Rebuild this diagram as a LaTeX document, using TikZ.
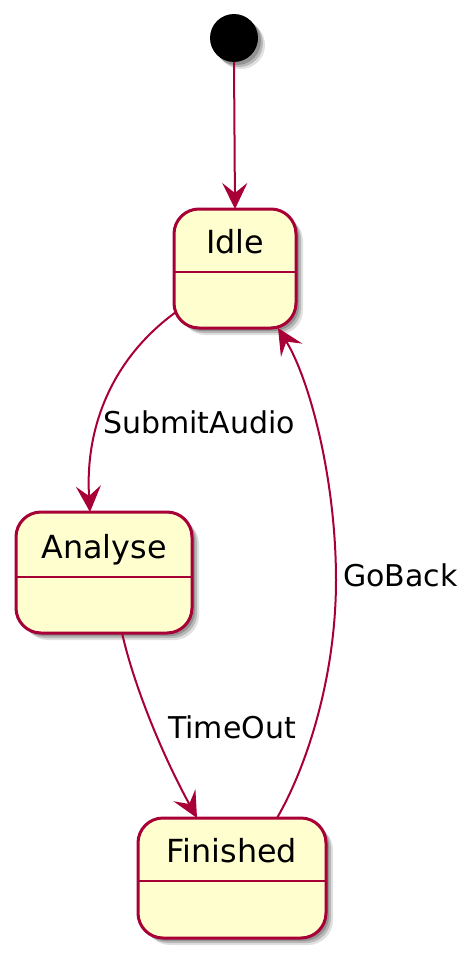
\documentclass[tikz,border=0pt]{standalone}
\usepackage{fontspec}
\setmainfont{DejaVu Sans}
\usetikzlibrary{arrows.meta,shadows,calc}
\definecolor{pborder}{HTML}{A80036}
\definecolor{pfill}{HTML}{FEFECE}
\begin{document}
\begin{tikzpicture}[x=1pt,y=-1pt,
  pshadow/.style={drop shadow={shadow xshift=7pt, shadow yshift=-7pt, fill=black, opacity=0.12},
                  drop shadow={shadow xshift=5pt, shadow yshift=-5pt, fill=black, opacity=0.18},
                  drop shadow={shadow xshift=3pt, shadow yshift=-3pt, fill=black, opacity=0.2}},
  state/.style={draw=pborder, fill=pfill, line width=3pt, rounded corners=25pt, inner sep=0pt, outer sep=0pt, pshadow},
  divider/.style={draw=pborder, line width=2.8pt},
  stxt/.style={inner sep=0pt, anchor=base, font=\fontsize{31.8}{38}\selectfont},
  lbl/.style={inner sep=0pt, anchor=base west, font=\fontsize{30}{36}\selectfont},
  edge/.style={draw=pborder, line width=2pt, -{Stealth[length=26pt,width=25pt,inset=10pt]}}
]
\useasboundingbox (0,0) rectangle (469,969);
% initial
\node[circle, fill=black, minimum size=48pt, inner sep=0pt, outer sep=0pt, pshadow] (init) at (234,38) {};
% states
\node[state, minimum width=122pt, minimum height=119pt] (idle) at (235,268.5) {};
\node[state, minimum width=176pt, minimum height=121pt] (analyse) at (104,572.5) {};
\node[state, minimum width=188pt, minimum height=120pt] (finished) at (232,878) {};
% dividers
\draw[divider] ($(idle.north west)+(0,63)$) -- ($(idle.north east)+(0,63)$);
\draw[divider] ($(analyse.north west)+(0,65)$) -- ($(analyse.north east)+(0,65)$);
\draw[divider] ($(finished.north west)+(0,63)$) -- ($(finished.north east)+(0,63)$);
% state names
\node[stxt] (idlet) at (235,253) {Idle};
\node[stxt] (analyset) at (104,558) {Analyse};
\node[stxt] (finishedt) at (232,862) {Finished};
% transitions
\draw[edge] (init.south) -- (idle.north);
\draw[edge] ($(idle.south west)+(2,-16)$) .. controls (110,360) and (85,430) .. ($(analyse.north)+(-14,0)$);
\draw[edge] ($(analyse.south)+(18,0)$) .. controls (135,690) and (165,760) .. ($(finished.north)+(-35,0)$);
\draw[edge] ($(finished.north)+(45,0)$) .. controls (305,770) and (336,680) .. (336,580) .. controls (336,480) and (310,380) .. ($(idle.south)+(43,0)$);
% labels
\node[lbl] (l1) at (103,433) {SubmitAudio};
\node[lbl] (l2) at (168,738) {TimeOut};
\node[lbl] (l3) at (343,586) {GoBack};
\end{tikzpicture}
\end{document}
